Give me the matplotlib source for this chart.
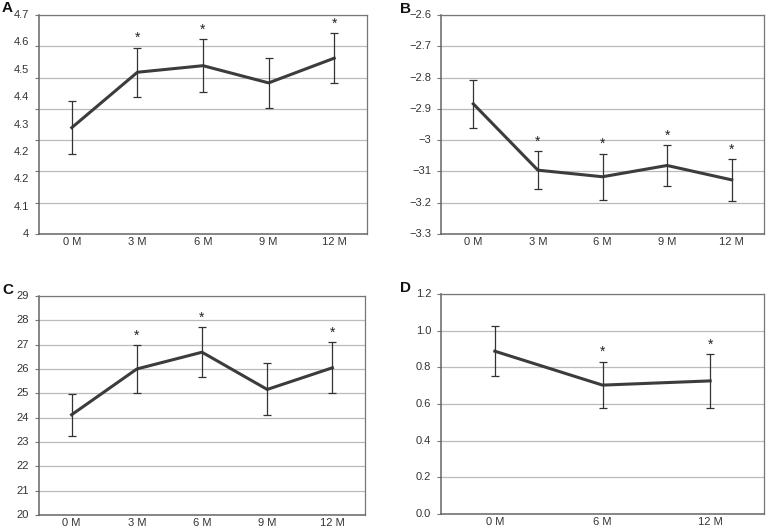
import numpy as np
import matplotlib
matplotlib.use('Agg')
import matplotlib.pyplot as plt
import matplotlib.transforms as mtransforms

plt.rcParams['font.family'] = ['Liberation Sans', 'DejaVu Sans']

# panel A
a_cats = ['0 M', '3 M', '6 M', '9 M', '12 M']
a_mean = [4.340, 4.517, 4.538, 4.483, 4.562]
a_err = [0.085, 0.078, 0.085, 0.079, 0.080]
a_star = [False, True, True, False, True]
a_grid = [4.0, 4.1, 4.2, 4.3, 4.4, 4.5, 4.6, 4.7]
a_labels = ['4', '4.1', '4.2', '4.2', '4.3', '4.4', '4.5', '4.6', '4.7']

# panel B
b_cats = ['0 M', '3 M', '6 M', '9 M', '12 M']
b_mean = [-2.884, -3.096, -3.117, -3.081, -3.127]
b_err = [0.077, 0.060, 0.074, 0.065, 0.067]
b_star = [False, True, True, True, True]
b_grid = [-3.3, -3.2, -3.1, -3.0, -2.9, -2.8, -2.7, -2.6]
b_labels = ['\u22123.3', '\u22123.2', '\u221231', '\u22123', '\u22122.9', '\u22122.8', '\u22122.7', '\u22122.6']

# panel C
c_cats = ['0 M', '3 M', '6 M', '9 M', '12 M']
c_mean = [24.12, 26.00, 26.69, 25.16, 26.05]
c_err = [0.87, 0.98, 1.03, 1.07, 1.05]
c_star = [False, True, True, False, True]
c_grid = [20, 21, 22, 23, 24, 25, 26, 27, 28, 29]
c_labels = ['20', '21', '22', '23', '24', '25', '26', '27', '28', '29']

# panel D
d_cats = ['0 M', '6 M', '12 M']
d_mean = [0.888, 0.703, 0.726]
d_err = [0.135, 0.127, 0.146]
d_star = [False, True, True]
d_grid = [0.0, 0.2, 0.4, 0.6, 0.8, 1.0, 1.2]
d_labels = ['0.0', '0.2', '0.4', '0.6', '0.8', '1.0', '1.2']

W, H = 768, 528
fig = plt.figure(figsize=(W / 100, H / 100), dpi=100)

# (letter, axes box in pixels: left, top, right, bottom, letter position)
panels = [
    ('A', (39, 15, 367, 234), (2, 8.5), a_cats, a_mean, a_err, a_star, a_grid, a_labels),
    ('B', (441, 15, 764, 234), (400, 9), b_cats, b_mean, b_err, b_star, b_grid, b_labels),
    ('C', (39, 296, 365, 515), (2, 289.5), c_cats, c_mean, c_err, c_star, c_grid, c_labels),
    ('D', (441, 294, 764, 514), (400, 288.5), d_cats, d_mean, d_err, d_star, d_grid, d_labels),
]

for letter, box, lpos, cats, mean, err, star, grid, labels in panels:
    l, t, r, b = box
    ax = fig.add_axes([l / W, 1 - b / H, (r - l) / W, (b - t) / H])
    x = np.arange(len(cats))
    ax.plot(x, mean, color='#3c3c3c', lw=2.2, zorder=3)
    ax.errorbar(x, mean, yerr=err, fmt='none', ecolor='#333333', elinewidth=0.9,
                capsize=2.6, capthick=0.9, zorder=4)
    span = grid[-1] - grid[0]
    for xi, m, e, s in zip(x, mean, err, star):
        if s:
            ax.text(xi, m + e + span * 0.012, '*', ha='center', va='bottom',
                    fontsize=10, color='#222222')
    ax.set_xlim(-0.5, len(cats) - 0.5)
    ax.set_ylim(grid[0], grid[-1])
    ax.set_xticks(x)
    ax.set_xticklabels(cats, fontsize=8, color='#333333')
    ax.tick_params(axis='x', length=0, pad=2.5)
    ax.set_yticks(grid)
    ax.set_yticklabels([])
    ax.tick_params(axis='y', length=3, width=0.8, color='#777777')
    # tick labels spread evenly (as printed in the original figure)
    trans = mtransforms.blended_transform_factory(ax.transAxes, ax.transData)
    for yv, lab in zip(np.linspace(grid[0], grid[-1], len(labels)), labels):
        ax.text(-0.03, yv, lab, transform=trans, ha='right', va='center',
                fontsize=8, color='#333333')
    ax.grid(axis='y', color='#bbbbbb', lw=0.9)
    ax.set_axisbelow(True)
    for side in ['left', 'bottom']:
        ax.spines[side].set_color('#666666')
        ax.spines[side].set_linewidth(1.1)
    for side in ['top', 'right']:
        ax.spines[side].set_color('#777777')
        ax.spines[side].set_linewidth(0.9)
    fig.text(lpos[0] / W, 1 - lpos[1] / H, letter, fontsize=11,
             fontweight='bold', ha='left', va='center', color='#111111')

fig.savefig('out.png', dpi=100)
